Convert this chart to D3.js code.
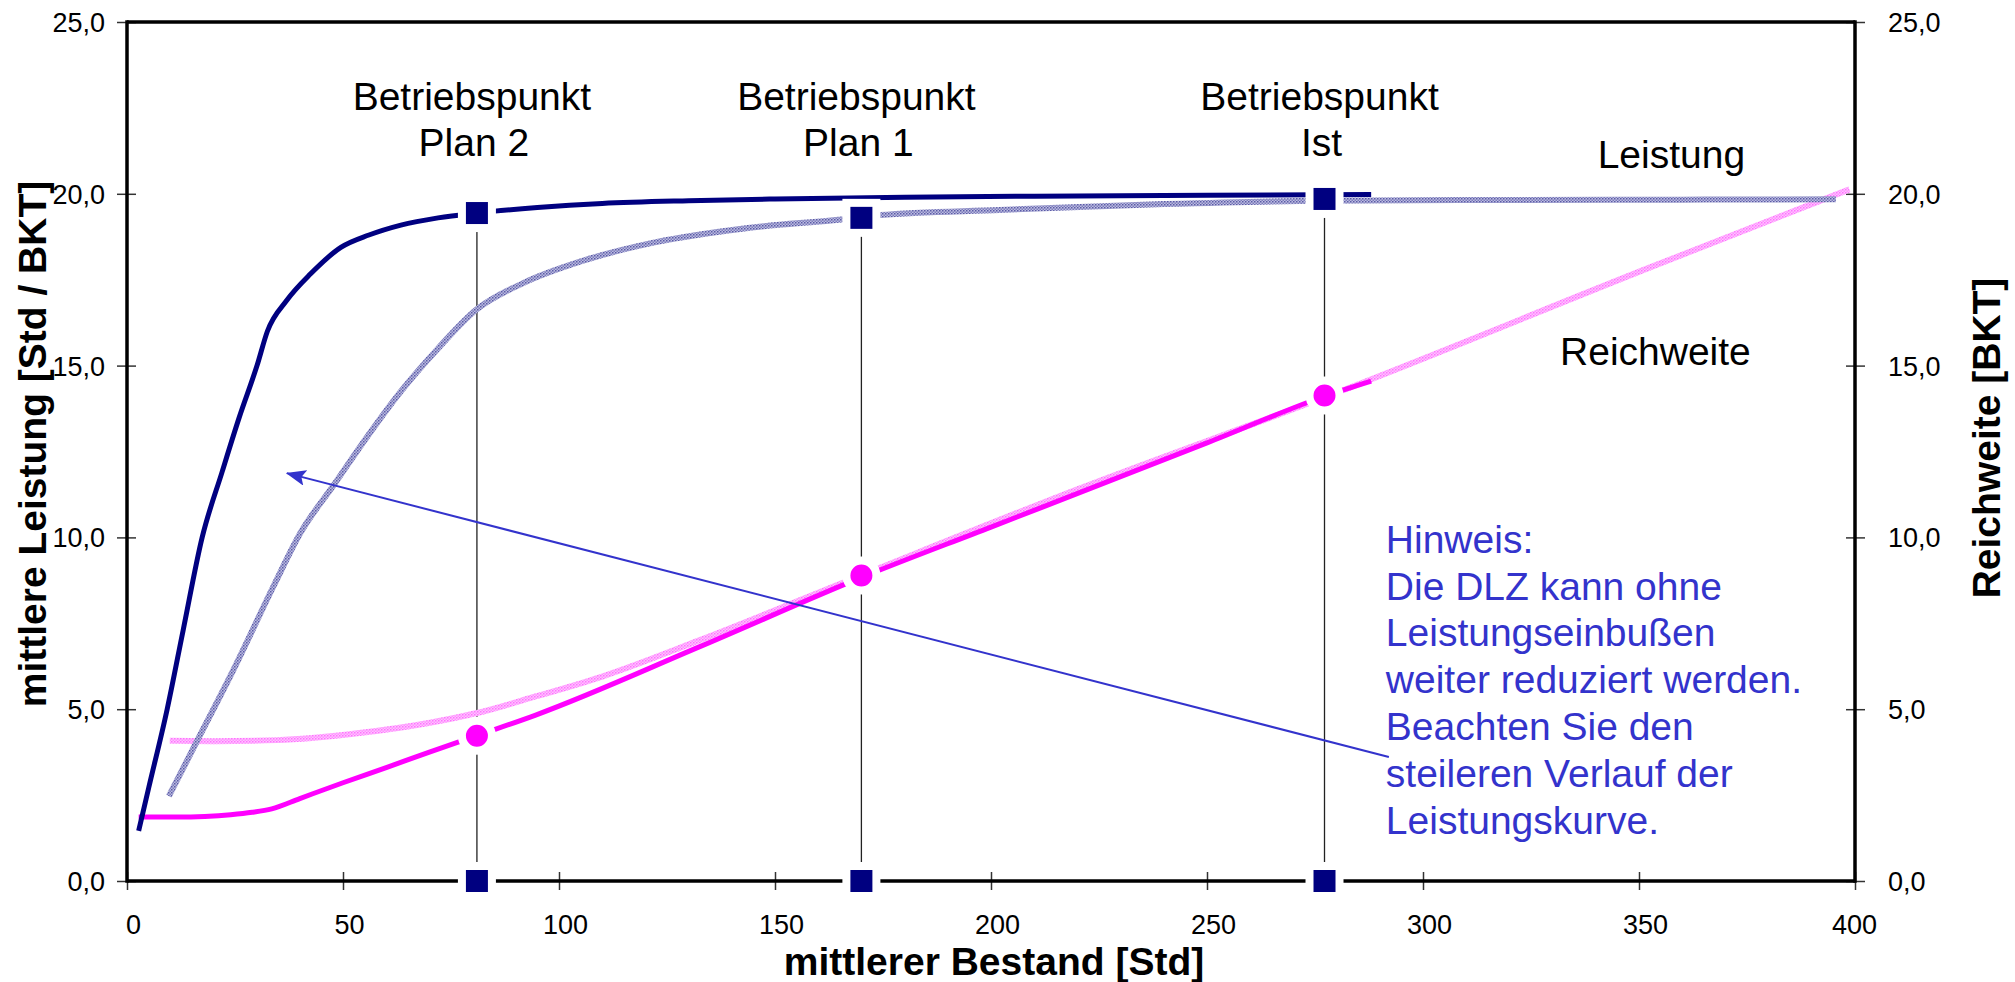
<!DOCTYPE html>
<html>
<head>
<meta charset="utf-8">
<script src="https://cdn.jsdelivr.net/npm/d3@7"></script>
<style>
  html, body { margin: 0; padding: 0; background: #ffffff; }
  svg { display: block; font-family: "Liberation Sans", Arial, Helvetica, sans-serif; }
</style>
</head>
<body>
<svg id="chart" width="2015" height="982"></svg>
<script>
// Leistung (Plan): mittlerer Bestand [Std] -> mittlere Leistung [Std / BKT]
const leistungPlanX = [2.7, 5, 9.3, 13, 17.4, 22, 26, 30.1, 32.5, 37, 42.5, 49.5, 56, 63.4, 72, 81, 95, 110, 130, 150, 180, 210, 250, 288];
const leistungPlanY = [1.46, 2.7, 5.0, 7.3, 10.0, 11.9, 13.5, 15.0, 16.0, 16.9, 17.67, 18.44, 18.8, 19.09, 19.3, 19.44, 19.6, 19.72, 19.8, 19.85, 19.9, 19.93, 19.96, 19.98];

// Leistung (Ist)
const leistungIstX = [9.7, 16.2, 24.7, 34, 40.2, 47.9, 55.6, 63.4, 72, 80.8, 91.7, 106, 122.7, 143.3, 166, 174.3, 202, 240, 277, 320, 360, 395.6];
const leistungIstY = [2.47, 4.07, 6.16, 8.6, 10.14, 11.53, 12.93, 14.25, 15.5, 16.62, 17.4, 18.07, 18.6, 19.0, 19.26, 19.38, 19.53, 19.7, 19.8, 19.82, 19.83, 19.84];

// Reichweite (Plan) in BKT
const reichweitePlanX = [2.7, 12, 18, 24, 29, 33.5, 40, 50, 60, 70, 81, 94.6, 132.6, 170.3, 200, 250, 277.7, 288];
const reichweitePlanY = [1.86, 1.86, 1.88, 1.93, 2.0, 2.1, 2.4, 2.86, 3.3, 3.75, 4.23, 4.83, 6.82, 8.85, 10.3, 12.75, 14.13, 14.55];

// Reichweite (Ist)
const reichweiteIstX = [9.9, 20, 34.7, 53.3, 69.8, 81, 94.6, 110, 132.6, 170, 220, 281.2, 353, 398.7];
const reichweiteIstY = [4.08, 4.07, 4.1, 4.3, 4.6, 4.89, 5.37, 5.95, 7.01, 8.9, 11.4, 14.27, 17.88, 20.13];

// Betriebspunkte
const bpNames = ["Plan 2", "Plan 1", "Ist"];
const bpBestand = [81, 170, 277.2];
const bpLeistung = [19.44, 19.30, 19.85];
const bpReichweite = [4.23, 8.89, 14.13];

// Axes
const xTicks = [0, 50, 100, 150, 200, 250, 300, 350, 400];
const yTicks = [0, 5, 10, 15, 20, 25];
const xTitle = "mittlerer Bestand [Std]";
const yLeftTitle = "mittlere Leistung [Std / BKT]";
const yRightTitle = "Reichweite [BKT]";

// Annotation text
const hinweisLines = ["Hinweis:", "Die DLZ kann ohne", "Leistungseinbußen", "weiter reduziert werden.", "Beachten Sie den", "steileren Verlauf der", "Leistungskurve."];
const arrowFrom = [292.1, 3.61];
const arrowTo = [37, 11.87];

const de = d3.formatLocale({ decimal: ",", thousands: ".", grouping: [3], currency: ["", " €"] });
const fmt1 = de.format(".1f");

const svg = d3.select("#chart");
const plot = { left: 127, right: 1855, top: 22, bottom: 881 };

const x = d3.scaleLinear().domain([0, 400]).range([plot.left, plot.right]);
const y = d3.scaleLinear().domain([0, 25]).range([plot.bottom, plot.top]);

// Pattern strokes for the "Ist" curves
const defs = svg.append("defs");
const pBlue = defs.append("pattern").attr("id", "hatchBlue")
  .attr("patternUnits", "userSpaceOnUse").attr("width", 3).attr("height", 3);
pBlue.append("rect").attr("width", 3).attr("height", 3).attr("fill", "#bcbce0");
pBlue.append("rect").attr("width", 1.5).attr("height", 1.5).attr("fill", "#5a5aa6");
pBlue.append("rect").attr("x", 1.5).attr("y", 1.5).attr("width", 1.5).attr("height", 1.5).attr("fill", "#7c7cbc");

const pPink = defs.append("pattern").attr("id", "hatchPink")
  .attr("patternUnits", "userSpaceOnUse").attr("width", 3).attr("height", 3);
pPink.append("rect").attr("width", 3).attr("height", 3).attr("fill", "#ffc4ff");
pPink.append("rect").attr("width", 1.5).attr("height", 1.5).attr("fill", "#ff70ff");
pPink.append("rect").attr("x", 1.5).attr("y", 1.5).attr("width", 1.5).attr("height", 1.5).attr("fill", "#ff90ff");

defs.append("marker").attr("id", "arrowHead")
  .attr("markerUnits", "userSpaceOnUse")
  .attr("viewBox", "0 0 20 16").attr("refX", 19).attr("refY", 8)
  .attr("markerWidth", 20).attr("markerHeight", 16).attr("orient", "auto")
  .append("path").attr("d", "M0,0 L20,8 L0,16 L4,8 Z").attr("fill", "#3333cc");

// Axes frame and ticks
const axisG = svg.append("g");
const tickStroke = "#333";

// Bottom axis; the last label is kept inside the right frame
const xAxis = d3.axisBottom(x).tickValues(xTicks).tickSizeInner(9).tickSizeOuter(0).tickFormat(d3.format("d"));
const gx = axisG.append("g").attr("transform", `translate(0,${plot.bottom})`).call(xAxis);
gx.select(".domain").remove();
gx.selectAll(".tick line").attr("y1", -9).attr("y2", 9).attr("stroke", tickStroke).attr("stroke-width", 1.5);
gx.selectAll(".tick text").attr("y", 0).attr("dy", 0)
  .attr("transform", d => `translate(${Math.min(6, plot.right - x(d) - 1)},53)`)
  .style("font-size", "27px").attr("fill", "#000").attr("font-family", null);

// Left axis
const yAxisL = d3.axisLeft(y).tickValues(yTicks).tickSizeInner(10).tickSizeOuter(0).tickFormat(fmt1);
const gyl = axisG.append("g").attr("transform", `translate(${plot.left},0)`).call(yAxisL);
gyl.select(".domain").remove();
gyl.selectAll(".tick line").attr("x1", -10).attr("x2", 9).attr("stroke", tickStroke).attr("stroke-width", 1.5);
gyl.selectAll(".tick text").attr("x", -22).attr("dy", "0.35em")
  .style("font-size", "27px").attr("fill", "#000").attr("font-family", null);

// Right axis
const yAxisR = d3.axisRight(y).tickValues(yTicks).tickSizeInner(10).tickSizeOuter(0).tickFormat(fmt1);
const gyr = axisG.append("g").attr("transform", `translate(${plot.right},0)`).call(yAxisR);
gyr.select(".domain").remove();
gyr.selectAll(".tick line").attr("x1", -9).attr("x2", 10).attr("stroke", tickStroke).attr("stroke-width", 1.5);
gyr.selectAll(".tick text").attr("x", 33).attr("dy", "0.35em")
  .style("font-size", "27px").attr("fill", "#000").attr("font-family", null);

// Vertical guide lines of the operating points
const guides = svg.append("g");
bpBestand.forEach((b, i) => {
  guides.append("line")
    .attr("x1", x(b)).attr("x2", x(b))
    .attr("y1", y(0)).attr("y2", y(bpLeistung[i]))
    .attr("stroke", "#222").attr("stroke-width", 1.3);
});

// Curves
const line = d3.line().x(d => x(d[0])).y(d => y(d[1])).curve(d3.curveMonotoneX);
const curves = svg.append("g").attr("fill", "none").attr("stroke-linecap", "butt").attr("stroke-linejoin", "round");

curves.append("path").attr("d", line(d3.zip(reichweiteIstX, reichweiteIstY)))
  .attr("stroke", "url(#hatchPink)").attr("stroke-width", 6);
curves.append("path").attr("d", line(d3.zip(leistungIstX, leistungIstY)))
  .attr("stroke", "url(#hatchBlue)").attr("stroke-width", 6);
curves.append("path").attr("d", line(d3.zip(reichweitePlanX, reichweitePlanY)))
  .attr("stroke", "#ff00ff").attr("stroke-width", 5);
curves.append("path").attr("d", line(d3.zip(leistungPlanX, leistungPlanY)))
  .attr("stroke", "#000080").attr("stroke-width", 5);

// Plot frame
const frame = svg.append("g").attr("stroke", "#000").attr("stroke-width", 3.5).attr("fill", "none");
frame.append("line").attr("x1", plot.left).attr("x2", plot.right).attr("y1", plot.top).attr("y2", plot.top);
frame.append("line").attr("x1", plot.right).attr("x2", plot.right).attr("y1", plot.top - 1.75).attr("y2", plot.bottom + 1.75);
frame.append("line").attr("x1", plot.left).attr("x2", plot.left).attr("y1", plot.top - 1.75).attr("y2", plot.bottom + 1.75);
frame.append("line").attr("x1", plot.left).attr("x2", plot.right).attr("y1", plot.bottom).attr("y2", plot.bottom);

// Markers
const markers = svg.append("g");
const sq = 30;
bpBestand.forEach((b, i) => {
  [bpLeistung[i], 0].forEach(v => {
    markers.append("rect")
      .attr("x", x(b) - sq / 2).attr("y", y(v) - sq / 2)
      .attr("width", sq).attr("height", sq)
      .attr("fill", "#000080").attr("stroke", "#fff").attr("stroke-width", 8);
  });
  markers.append("circle")
    .attr("cx", x(b)).attr("cy", y(bpReichweite[i])).attr("r", 15)
    .attr("fill", "#ff00ff").attr("stroke", "#fff").attr("stroke-width", 8);
});

// Arrow
svg.append("line")
  .attr("x1", x(arrowFrom[0])).attr("y1", y(arrowFrom[1]))
  .attr("x2", x(arrowTo[0])).attr("y2", y(arrowTo[1]))
  .attr("stroke", "#3333cc").attr("stroke-width", 2)
  .attr("marker-end", "url(#arrowHead)");

// Labels of the operating points
const labels = svg.append("g").style("font-size", "39px").attr("fill", "#000").attr("text-anchor", "middle");
bpBestand.forEach((b, i) => {
  const t = labels.append("text").attr("x", x(b) - 5).attr("y", y(22.45));
  t.append("tspan").attr("x", x(b) - 5).text("Betriebspunkt");
  t.append("tspan").attr("x", x(b) - 3).attr("dy", 46.8).text(bpNames[i]);
});

// Series labels
labels.append("text").attr("x", x(357.5)).attr("y", y(20.75)).text("Leistung");
labels.append("text").attr("x", x(353.8)).attr("y", y(15.02)).text("Reichweite");

// Note
const note = svg.append("text").attr("x", x(291.4)).attr("y", y(9.55))
  .style("font-size", "39px").attr("fill", "#3333cc");
hinweisLines.forEach((s, i) => {
  note.append("tspan").attr("x", x(291.4)).attr("dy", i === 0 ? 0 : 46.8).text(s);
});

// Axis titles
const titles = svg.append("g").style("font-size", "39px").style("font-weight", "bold").attr("fill", "#000").attr("text-anchor", "middle");
titles.append("text").attr("x", 994).attr("y", 975).text(xTitle);
titles.append("text").attr("transform", "translate(46,444) rotate(-90)").text(yLeftTitle);
titles.append("text").attr("transform", "translate(2000,438) rotate(-90)").text(yRightTitle);
</script>
</body>
</html>
